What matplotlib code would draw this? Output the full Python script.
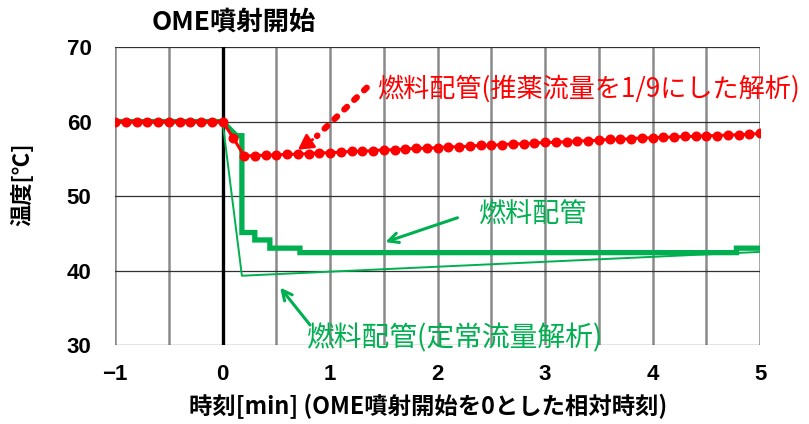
import numpy as np
import matplotlib
matplotlib.use("Agg")
import matplotlib.pyplot as plt

plt.rcParams["font.family"] = ["Noto Sans CJK JP", "DejaVu Sans"]
plt.rcParams["axes.unicode_minus"] = True

# ── データ ───────────────────────────────────────────────
# 燃料配管(推薬流量を1/9にした解析)  0.1分刻み
t_red = [-1.0, -0.9, -0.8, -0.7, -0.6, -0.5, -0.4, -0.3, -0.2, -0.1, 0.0,
         0.1, 0.2, 0.3, 0.4, 0.5, 0.6, 0.7, 0.8, 0.9, 1.0,
         1.1, 1.2, 1.3, 1.4, 1.5, 1.6, 1.7, 1.8, 1.9, 2.0,
         2.1, 2.2, 2.3, 2.4, 2.5, 2.6, 2.7, 2.8, 2.9, 3.0,
         3.1, 3.2, 3.3, 3.4, 3.5, 3.6, 3.7, 3.8, 3.9, 4.0,
         4.1, 4.2, 4.3, 4.4, 4.5, 4.6, 4.7, 4.8, 4.9, 5.0]
v_red = [60.0, 60.0, 60.0, 60.0, 60.0, 60.0, 60.0, 60.0, 60.0, 60.0, 60.0,
         57.8, 55.4, 55.4, 55.5, 55.5, 55.6, 55.6, 55.7, 55.8, 55.8,
         55.9, 56.0, 56.0, 56.1, 56.2, 56.2, 56.3, 56.4, 56.4, 56.5,
         56.6, 56.6, 56.7, 56.8, 56.8, 56.9, 57.0, 57.0, 57.1, 57.2,
         57.2, 57.3, 57.4, 57.4, 57.5, 57.6, 57.6, 57.7, 57.8, 57.8,
         57.9, 57.9, 58.0, 58.0, 58.1, 58.1, 58.2, 58.2, 58.3, 58.4]

# 燃料配管 (階段状)
t_pipe = [-1.0, 0.0, 0.13, 0.18, 0.18, 0.30, 0.30, 0.44, 0.44, 0.72, 0.72, 4.78, 4.78, 5.0]
v_pipe = [60.0, 60.0, 58.1, 58.1, 45.1, 45.1, 44.1, 44.1, 43.0, 43.0, 42.4, 42.4, 43.0, 43.0]

# 燃料配管(定常流量解析)
t_steady = [0.0, 0.18, 5.0]
v_steady = [60.0, 39.3, 42.5]

x_ticks = [-1, 0, 1, 2, 3, 4, 5]
y_ticks = [30, 40, 50, 60, 70]

RED = "#ff0000"
GREEN = "#00b050"

fig = plt.figure(figsize=(8.09, 4.24), dpi=100, facecolor="white")
ax = fig.add_axes([0.1422, 0.1863, 0.7973, 0.7028])

ax.set_xlim(-1, 5)
ax.set_ylim(30, 70)

# グリッド: 縦は0.5分ごと(灰), 横は10℃ごと(黒)
for xv in np.arange(-1, 5.01, 0.5):
    ax.axvline(xv, color="#8a8a8a", lw=1.8, zorder=1)
for yv in y_ticks:
    ax.axhline(yv, color="#303030", lw=0.9, zorder=1)

# 噴射開始線
ax.axvline(0, color="black", lw=2.4, zorder=2)

ax.plot(t_pipe, v_pipe, color=GREEN, lw=3.8, solid_joinstyle="miter", zorder=3)
ax.plot(t_steady, v_steady, color=GREEN, lw=1.4, zorder=3)
ax.plot(t_red, v_red, color=RED, lw=2.2, marker="o", ms=6.2, mec=RED, mfc=RED, zorder=4)

for s in ax.spines.values():
    s.set_visible(False)

ax.set_xticks(x_ticks)
ax.set_yticks(y_ticks)
ax.set_xticklabels([f"{v}".replace("-", "\u2212") for v in x_ticks])
ax.tick_params(length=0)
ax.tick_params(axis="x", pad=14)
ax.tick_params(axis="y", pad=17)
for lab in ax.get_xticklabels() + ax.get_yticklabels():
    lab.set_fontfamily(["Liberation Sans", "DejaVu Sans"])
    lab.set_fontweight("bold")
    lab.set_fontsize(16)

ax.set_xlabel("時刻[min] (OME噴射開始を0とした相対時刻)", fontsize=16.8,
              fontweight="bold")
ax.xaxis.set_label_coords(0.485, -0.165)
ax.set_ylabel("温度[℃]", fontsize=16, fontweight="bold")
ax.yaxis.set_label_coords(-0.125, 0.54)

fig.text(234 / 809, 1 - 22 / 424, "OME噴射開始", fontsize=19,
         fontweight="bold", ha="center", va="center", color="black")

# 注記
ax.text(1.44, 64.4, "燃料配管(推薬流量を1/9にした解析)", color=RED,
        fontsize=18.8, ha="left", va="center", zorder=6, clip_on=False)
ax.annotate("", xy=(0.86, 57.8), xytext=(1.36, 64.8),
            arrowprops=dict(arrowstyle="-", color=RED, lw=4.5,
                            linestyle=(0, (0.6, 1.6))), zorder=5)
ax.annotate("", xy=(0.68, 56.0), xytext=(0.86, 57.8),
            arrowprops=dict(arrowstyle="-|>,head_length=0.9,head_width=0.5",
                            color=RED, lw=2), zorder=5)

ax.text(2.38, 47.4, "燃料配管", color=GREEN, fontsize=19.5,
        ha="left", va="center", zorder=6)
ax.annotate("", xy=(1.49, 43.7), xytext=(2.21, 47.2),
            arrowprops=dict(arrowstyle="->,head_length=0.7,head_width=0.35",
                            color=GREEN, lw=2.2), zorder=5)

ax.text(0.78, 30.9, "燃料配管(定常流量解析)", color=GREEN, fontsize=20,
        ha="left", va="center", zorder=6, clip_on=False)
ax.annotate("", xy=(0.52, 38.0), xytext=(0.83, 32.4),
            arrowprops=dict(arrowstyle="->,head_length=0.7,head_width=0.35",
                            color=GREEN, lw=2.2), zorder=5)

fig.savefig("out.png", dpi=100, facecolor="white")
